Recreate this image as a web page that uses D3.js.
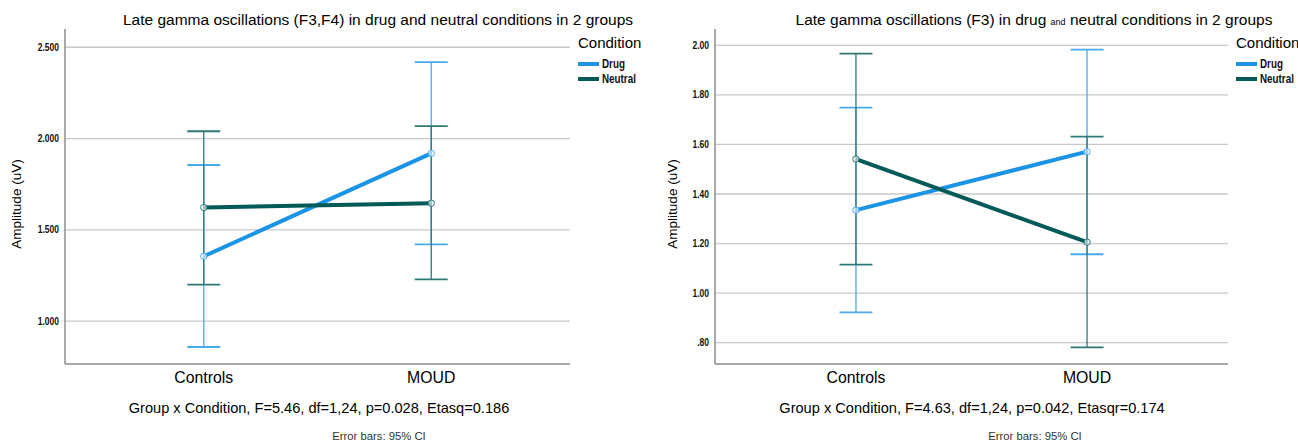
<!DOCTYPE html>
<html>
<head>
<meta charset="utf-8">
<script src="https://cdn.jsdelivr.net/npm/d3@7"></script>
<style>
  body { margin: 0; background: #fff; }
  svg { display: block; font-family: 'Liberation Sans', Arial, sans-serif; }
</style>
</head>
<body>
<div id="chart"></div>
<script>
// group / condition names
const groups = ['Controls', 'MOUD'];
const conditions = ['Drug', 'Neutral'];

// left panel (F3,F4): means and 95% CI bounds, order = groups
const leftDrugMean = [1.355, 1.919];
const leftDrugLow = [0.858, 1.420];
const leftDrugHigh = [1.855, 2.419];
const leftNeutralMean = [1.622, 1.646];
const leftNeutralLow = [1.200, 1.228];
const leftNeutralHigh = [2.040, 2.068];
const leftTicks = [1.0, 1.5, 2.0, 2.5];
const leftTickLabels = ['1.000', '1.500', '2.000', '2.500'];

// right panel (F3)
const rightDrugMean = [1.335, 1.571];
const rightDrugLow = [0.922, 1.157];
const rightDrugHigh = [1.749, 1.983];
const rightNeutralMean = [1.541, 1.206];
const rightNeutralLow = [1.115, 0.781];
const rightNeutralHigh = [1.967, 1.632];
const rightTicks = [0.8, 1.0, 1.2, 1.4, 1.6, 1.8, 2.0];
const rightTickLabels = ['.80', '1.00', '1.20', '1.40', '1.60', '1.80', '2.00'];

const colors = { Drug: '#1b94e6', Neutral: '#005a57' };
const barColors = { Drug: '#4aaaee', Neutral: '#2e7878' };

const svg = d3.select('#chart')
  .append('svg')
  .attr('width', 1298)
  .attr('height', 443);

function drawPanel(opts) {
  const g = svg.append('g').attr('transform', `translate(${opts.left},0)`);
  const top = 29, bottom = 364;
  const width = opts.width;

  const x = d3.scalePoint()
    .domain(groups)
    .range([0, width])
    .padding(0.61);

  const y = d3.scaleLinear()
    .domain(opts.domain)
    .range([bottom, top]);

  // gridlines
  g.selectAll('.grid')
    .data(opts.ticks)
    .enter()
    .append('line')
    .attr('x1', 0)
    .attr('x2', width)
    .attr('y1', d => y(d))
    .attr('y2', d => y(d))
    .attr('stroke', '#c9c9c9')
    .attr('stroke-width', 1.3);

  // y tick labels (narrow bold, squeezed horizontally)
  g.selectAll('.tick-label')
    .data(opts.ticks)
    .enter()
    .append('text')
    .attr('transform', d => `translate(-6,${y(d) + 3.5}) scale(0.85,1)`)
    .attr('text-anchor', 'end')
    .attr('font-size', '10px')
    .attr('font-weight', 'bold')
    .attr('fill', '#111')
    .text((d, i) => opts.tickLabels[i]);

  // axis lines
  g.append('line')
    .attr('x1', 0).attr('x2', 0)
    .attr('y1', top).attr('y2', bottom)
    .attr('stroke', '#8c8c8c').attr('stroke-width', 1.5);
  g.append('line')
    .attr('x1', 0).attr('x2', width)
    .attr('y1', bottom).attr('y2', bottom)
    .attr('stroke', '#8c8c8c').attr('stroke-width', 1.5);

  // x labels
  g.selectAll('.x-label')
    .data(groups)
    .enter()
    .append('text')
    .attr('x', d => x(d))
    .attr('y', 383)
    .attr('text-anchor', 'middle')
    .attr('font-size', '15.8px')
    .attr('fill', '#000')
    .text(d => d);

  const series = [
    { name: 'Drug', mean: opts.drugMean, low: opts.drugLow, high: opts.drugHigh },
    { name: 'Neutral', mean: opts.neutralMean, low: opts.neutralLow, high: opts.neutralHigh }
  ];

  // error bars
  series.forEach(s => {
    const eb = g.append('g')
      .attr('stroke', barColors[s.name])
      .attr('stroke-width', 1.3);
    groups.forEach((grp, i) => {
      eb.append('line')
        .attr('x1', x(grp)).attr('x2', x(grp))
        .attr('y1', y(s.low[i])).attr('y2', y(s.high[i]));
      [s.low[i], s.high[i]].forEach(v => {
        eb.append('line')
          .attr('x1', x(grp) - 16.5).attr('x2', x(grp) + 16.5)
          .attr('y1', y(v)).attr('y2', y(v))
          .attr('stroke-width', 1.8);
      });
    });
  });

  // mean lines
  const line = d3.line()
    .x((d, i) => x(groups[i]))
    .y(d => y(d));

  series.forEach(s => {
    g.append('path')
      .datum(s.mean)
      .attr('d', line)
      .attr('fill', 'none')
      .attr('stroke', colors[s.name])
      .attr('stroke-width', 4);
  });

  series.forEach(s => {
    g.selectAll(null)
      .data(s.mean)
      .enter()
      .append('circle')
      .attr('cx', (d, i) => x(groups[i]))
      .attr('cy', d => y(d))
      .attr('r', 3.2)
      .attr('fill', '#fff')
      .attr('fill-opacity', 0.6)
      .attr('stroke', barColors[s.name])
      .attr('stroke-width', 1);
  });

  // y axis title
  g.append('text')
    .attr('transform', `translate(${opts.yLabelX},${opts.yLabelY}) rotate(-90)`)
    .attr('text-anchor', 'middle')
    .attr('font-size', '13.5px')
    .attr('fill', '#000')
    .text('Amplitude (uV)');

  // title
  const title = g.append('text')
    .attr('x', opts.titleX)
    .attr('y', 25)
    .attr('text-anchor', 'middle')
    .attr('font-size', '15.5px')
    .attr('fill', '#000');
  opts.title.forEach(part => {
    title.append('tspan')
      .attr('font-size', part.size || null)
      .text(part.text);
  });

  // legend
  const legend = g.append('g')
    .attr('transform', `translate(${width + 8},0)`);
  legend.append('text')
    .attr('x', 0)
    .attr('y', 48)
    .attr('font-size', '15px')
    .attr('fill', '#000')
    .text('Condition');
  conditions.forEach((c, i) => {
    legend.append('line')
      .attr('x1', 0).attr('x2', 21)
      .attr('y1', 64 + i * 15).attr('y2', 64 + i * 15)
      .attr('stroke', colors[c])
      .attr('stroke-width', 4);
    legend.append('text')
      .attr('transform', `translate(24,${68 + i * 15}) scale(0.82,1)`)
      .attr('font-size', '12px')
      .attr('font-weight', 'bold')
      .attr('fill', '#111')
      .text(c);
  });

  // footer
  g.append('text')
    .attr('x', opts.footerX)
    .attr('y', 413)
    .attr('text-anchor', 'middle')
    .attr('font-size', '14.6px')
    .attr('fill', '#000')
    .text(opts.footer);

  g.append('text')
    .attr('x', opts.noteX)
    .attr('y', 440)
    .attr('text-anchor', 'middle')
    .attr('font-size', '11.3px')
    .attr('fill', '#333')
    .text('Error bars: 95% CI');
}

drawPanel({
  left: 65,
  width: 505,
  domain: [0.765, 2.6],
  ticks: leftTicks,
  tickLabels: leftTickLabels,
  drugMean: leftDrugMean, drugLow: leftDrugLow, drugHigh: leftDrugHigh,
  neutralMean: leftNeutralMean, neutralLow: leftNeutralLow, neutralHigh: leftNeutralHigh,
  yLabelX: -44, yLabelY: 204,
  titleX: 313,
  title: [{ text: 'Late gamma oscillations (F3,F4) in drug and neutral conditions in 2 groups' }],
  footerX: 254,
  footer: 'Group x Condition, F=5.46, df=1,24, p=0.028, Etasq=0.186',
  noteX: 314
});

drawPanel({
  left: 715,
  width: 513,
  domain: [0.714, 2.066],
  ticks: rightTicks,
  tickLabels: rightTickLabels,
  drugMean: rightDrugMean, drugLow: rightDrugLow, drugHigh: rightDrugHigh,
  neutralMean: rightNeutralMean, neutralLow: rightNeutralLow, neutralHigh: rightNeutralHigh,
  yLabelX: -38, yLabelY: 204,
  titleX: 319,
  title: [
    { text: 'Late gamma oscillations (F3) in drug ' },
    { text: 'and', size: '9px' },
    { text: ' neutral conditions in 2 groups' }
  ],
  footerX: 257,
  footer: 'Group x Condition, F=4.63, df=1,24, p=0.042, Etasqr=0.174',
  noteX: 320
});
</script>
</body>
</html>
